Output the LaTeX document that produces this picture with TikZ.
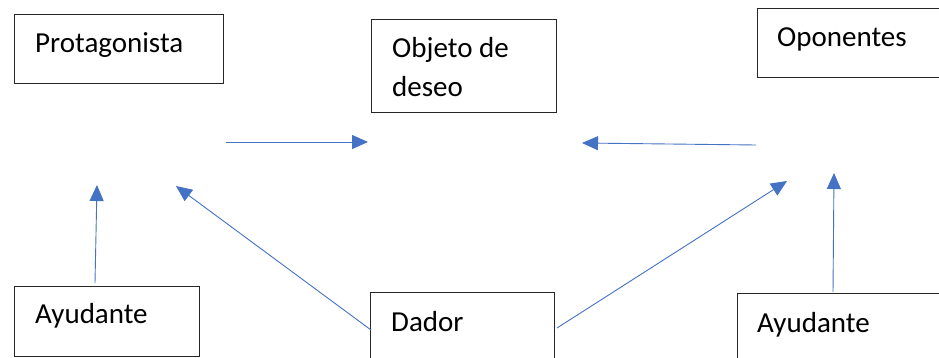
\documentclass[tikz,border=0pt]{standalone}
\usepackage{fontspec}
\setmainfont{Carlito}
\usetikzlibrary{arrows.meta,calc}
\begin{document}
\begin{tikzpicture}[x=1pt,y=-1pt,
  box/.style={draw=black!85, line width=1pt, rectangle, inner sep=0pt, anchor=north west},
  lbl/.style={font=\fontsize{29}{39}\selectfont, inner sep=0pt, anchor=base west, align=left, text=black},
  conn/.style={draw={rgb,255:red,68;green,114;blue,196}, line width=0.9pt,
    -{Triangle[length=16pt,width=14pt]}, shorten >=0pt}]
\useasboundingbox (0,0) rectangle (939,358);
\clip (0,0) rectangle (939,358);
\fill[white] (0,0) rectangle (939,358);
% boxes
\node[box, minimum width=209pt, minimum height=69pt] (prot) at (14,14) {};
\node[lbl] at ($(prot.north west)+(21,39)$) {Protagonista};
\node[box, minimum width=185pt, minimum height=93pt] (obj) at (371,19) {};
\node[lbl] at ($(obj.north west)+(21,78)$) {Objeto de\\deseo};
\node[box, minimum width=200pt, minimum height=69pt] (opo) at (757,8) {};
\node[lbl] at ($(opo.north west)+(20,39)$) {Oponentes};
\node[box, minimum width=185pt, minimum height=70pt] (ayl) at (14,286) {};
\node[lbl] at ($(ayl.north west)+(21,37)$) {Ayudante};
\node[box, minimum width=184pt, minimum height=90pt] (dador) at (370,292) {};
\node[lbl] at ($(dador.north west)+(21,39)$) {Dador};
\node[box, minimum width=220pt, minimum height=90pt] (ayr) at (737,293) {};
\node[lbl] at ($(ayr.north west)+(20,39)$) {Ayudante};
% free ends
\coordinate (a1s) at (226,142);
\coordinate (a1e) at (368,142);
\coordinate (a2s) at (756,145);
\coordinate (a2e) at (582,143);
\coordinate (a3s) at (95,283);
\coordinate (a3e) at (97,185);
\coordinate (a4s) at ($(dador.north west)+(1,38)$);
\coordinate (a4e) at (176,186);
\coordinate (a5s) at ($(dador.north east)+(2,36)$);
\coordinate (a5e) at (787,181);
\coordinate (a6s) at (833,292);
\coordinate (a6e) at (834,173);
% connectors
\draw[conn] (a1s) -- (a1e);
\draw[conn] (a2s) -- (a2e);
\draw[conn] (a3s) -- (a3e);
\draw[conn] (a4s) -- (a4e);
\draw[conn] (a5s) -- (a5e);
\draw[conn] (a6s) -- (a6e);
\end{tikzpicture}
\end{document}
